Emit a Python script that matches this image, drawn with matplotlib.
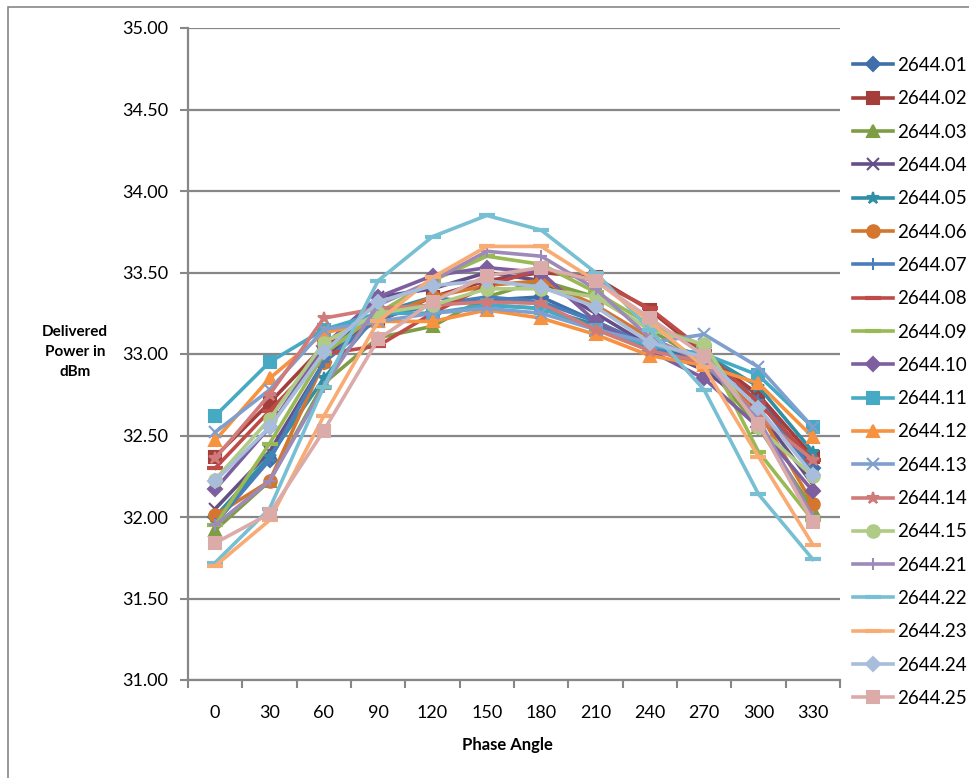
import numpy as np
import matplotlib
matplotlib.use("Agg")
from matplotlib import pyplot as plt
from matplotlib.patches import Rectangle

plt.rcParams['font.family'] = ['Lato', 'DejaVu Sans']

angles = ['0', '30', '60', '90', '120', '150', '180', '210', '240', '270', '300', '330']

names = ['2644.01', '2644.02', '2644.03', '2644.04', '2644.05', '2644.06', '2644.07',
         '2644.08', '2644.09', '2644.10', '2644.11', '2644.12', '2644.13', '2644.14',
         '2644.15', '2644.21', '2644.22', '2644.23', '2644.24', '2644.25']

s01 = [32.00, 32.35, 32.95, 33.25, 33.30, 33.33, 33.35, 33.20, 33.05, 32.95, 32.75, 32.30]
s02 = [32.37, 32.70, 33.05, 33.20, 33.35, 33.45, 33.50, 33.47, 33.27, 33.00, 32.75, 32.37]
s03 = [31.92, 32.22, 32.82, 33.10, 33.17, 33.35, 33.45, 33.35, 33.15, 32.95, 32.55, 32.05]
s04 = [32.05, 32.40, 32.95, 33.35, 33.40, 33.50, 33.45, 33.25, 33.05, 32.90, 32.65, 32.20]
s05 = [32.00, 32.37, 32.85, 33.25, 33.35, 33.30, 33.28, 33.18, 33.05, 33.00, 32.80, 32.40]
s06 = [32.01, 32.22, 32.95, 33.22, 33.35, 33.42, 33.45, 33.30, 33.10, 32.95, 32.65, 32.08]
s07 = [31.96, 32.35, 32.95, 33.22, 33.30, 33.35, 33.32, 33.20, 33.05, 32.92, 32.72, 32.28]
s08 = [32.30, 32.65, 33.00, 33.05, 33.25, 33.42, 33.52, 33.45, 33.28, 33.02, 32.70, 32.35]
s09 = [31.95, 32.45, 33.00, 33.25, 33.45, 33.60, 33.55, 33.38, 33.18, 33.05, 32.40, 31.98]
s10 = [32.17, 32.55, 33.05, 33.35, 33.48, 33.53, 33.50, 33.20, 33.02, 32.85, 32.55, 32.16]
s11 = [32.62, 32.95, 33.15, 33.25, 33.25, 33.30, 33.28, 33.15, 33.05, 33.00, 32.87, 32.55]
s12 = [32.47, 32.85, 33.13, 33.20, 33.20, 33.27, 33.22, 33.12, 32.99, 32.93, 32.82, 32.49]
s13 = [32.52, 32.78, 33.15, 33.20, 33.25, 33.28, 33.25, 33.15, 33.07, 33.12, 32.92, 32.55]
s14 = [32.36, 32.75, 33.22, 33.28, 33.30, 33.32, 33.31, 33.15, 33.02, 32.95, 32.62, 32.35]
s15 = [32.23, 32.60, 33.07, 33.25, 33.30, 33.40, 33.40, 33.35, 33.15, 33.06, 32.55, 32.25]
s21 = [31.95, 32.22, 32.80, 33.30, 33.45, 33.63, 33.60, 33.40, 33.10, 32.95, 32.60, 32.00]
s22 = [31.72, 32.05, 32.80, 33.45, 33.72, 33.85, 33.76, 33.50, 33.15, 32.78, 32.14, 31.74]
s23 = [31.70, 31.98, 32.62, 33.20, 33.47, 33.66, 33.66, 33.45, 33.20, 32.92, 32.37, 31.83]
s24 = [32.22, 32.55, 33.01, 33.32, 33.42, 33.45, 33.41, 33.29, 33.07, 32.98, 32.67, 32.26]
s25 = [31.84, 32.02, 32.53, 33.09, 33.32, 33.48, 33.53, 33.45, 33.22, 32.99, 32.57, 31.97]

series = [s01, s02, s03, s04, s05, s06, s07, s08, s09, s10,
          s11, s12, s13, s14, s15, s21, s22, s23, s24, s25]

colors = ['#3F6FAA', '#A33E3B', '#7E9D45', '#654F86', '#2F8FA7', '#D4762E', '#4A7EBB',
          '#BE4B48', '#98B954', '#7D5FA0', '#46AAC5', '#F69240', '#7F9FCF', '#D07B79',
          '#AFCB85', '#9D8AB9', '#78BFD3', '#F9AB74', '#A8BCDB', '#DBABAA']
markers = ['D', 's', '^', 'x', '*', 'o', '+', '_', '_', 'D',
           's', '^', 'x', '*', 'o', '+', '_', '_', 'D', 's']

fig = plt.figure(figsize=(9.69, 7.78), dpi=100)
ax = fig.add_axes([188/969, 1-680/778, 652/969, 652/778])

x = np.arange(len(angles))
for vals, name, c, m in zip(series, names, colors, markers):
    ms = 9
    mew = 1.5
    if m == 'D':
        ms = 7
    elif m == '_':
        ms = 11
        mew = 3
    ax.plot(x, vals, color=c, lw=2.6, marker=m, markersize=ms,
            markeredgewidth=mew, markeredgecolor=c, markerfacecolor=c, label=name)

ax.set_xlim(-0.5, len(angles)-0.5)
ax.set_ylim(31, 35)
ax.set_yticks(np.arange(31, 35.01, 0.5))
ax.set_yticklabels(['%.2f' % v for v in np.arange(31, 35.01, 0.5)], fontsize=13)
ax.set_xticks(np.arange(-0.5, len(angles), 1))
ax.set_xticklabels([])
ax.set_xticks(x, minor=True)
ax.set_xticklabels(angles, minor=True, fontsize=13)
ax.tick_params(axis='x', which='major', length=6, width=1.5, color='#878787', direction='out')
ax.tick_params(axis='x', which='minor', length=0, pad=18)
ax.tick_params(axis='y', length=6, width=1.5, color='#878787', direction='out', pad=8)

ax.grid(axis='y', color='#878787', lw=1.6)
ax.set_axisbelow(True)
for sp in ['top', 'right']:
    ax.spines[sp].set_visible(False)
for sp in ['left', 'bottom']:
    ax.spines[sp].set_color('#878787')
    ax.spines[sp].set_linewidth(1.6)

fig.text(75/969, 1-352/778, 'Delivered\nPower in\ndBm', ha='center', va='center',
         fontsize=11, fontweight='bold', linespacing=1.55)
fig.text(507/969, 1-745/778, 'Phase Angle', ha='center', va='center',
         fontsize=12, fontweight='bold')

ax.legend(loc='upper left', bbox_to_anchor=(853/969, 1-57/778), bbox_transform=fig.transFigure,
          frameon=False, fontsize=13.5, handlelength=2.15, handletextpad=0.22,
          labelspacing=0.87, borderaxespad=0, borderpad=0)

fig.patches.append(Rectangle((8/969, -0.1), 1.2, 1-7/778+0.1, transform=fig.transFigure,
                             fill=False, edgecolor='#878787', lw=1.2))

fig.savefig('out.png', dpi=100)
